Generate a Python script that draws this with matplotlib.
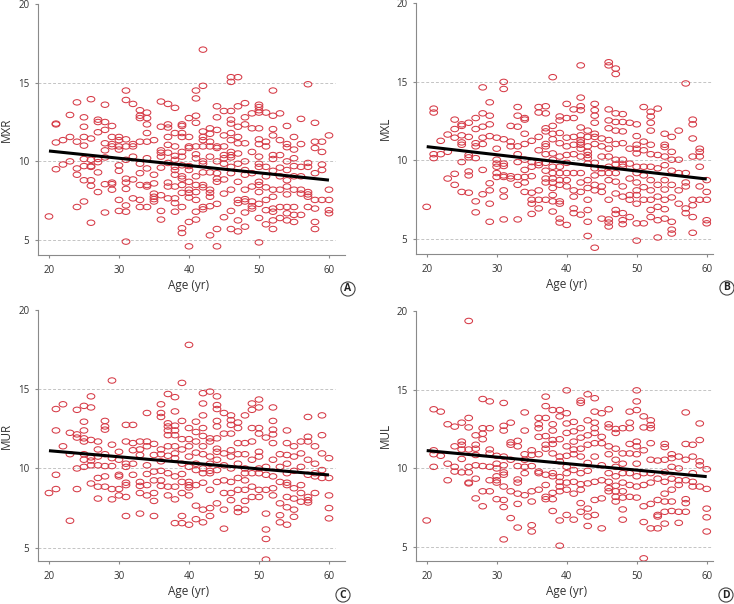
import numpy as np
import matplotlib
matplotlib.use("Agg")
import matplotlib.pyplot as plt
from matplotlib.markers import MarkerStyle
from matplotlib.transforms import Affine2D

plt.rcParams['font.family'] = ['Open Sans', 'DejaVu Sans']

# ages on the x axis; each panel lists the values seen at every age 20..60
ages = list(range(20, 61))

mxr = [
    [6.5],
    [12.4, 12.35, 11.2, 9.5],
    [11.35, 9.8],
    [12.95, 11.55, 10.0],
    [13.75, 11.25, 9.55, 9.15, 7.1],
    [12.8, 12.2, 11.55, 11.0, 10.15, 9.7, 8.8, 7.45],
    [13.95, 11.45, 10.1, 9.7, 9.65, 8.8, 8.45, 6.1],
    [12.65, 12.5, 11.85, 10.15, 9.95, 9.3, 8.05],
    [13.6, 12.5, 12.0, 11.15, 10.7, 10.25, 8.55, 6.75],
    [12.25, 11.55, 11.1, 10.95, 8.65, 8.55, 8.2],
    [11.55, 11.35, 10.95, 10.75, 9.75, 9.4, 7.55, 6.85],
    [14.5, 13.9, 11.4, 10.95, 10.1, 8.9, 8.65, 8.25, 7.2, 6.8, 4.9],
    [13.65, 11.1, 10.95, 10.3, 8.85, 7.65],
    [13.25, 12.9, 12.75, 11.25, 9.85, 9.25, 8.5, 7.55, 7.1],
    [13.1, 12.75, 12.35, 11.8, 11.25, 10.2, 9.55, 8.5, 8.4, 7.1],
    [11.35, 9.15, 8.6, 7.95, 7.75, 7.6, 7.45],
    [13.8, 12.2, 10.7, 10.55, 10.3, 9.6, 7.85, 6.85, 6.3],
    [13.65, 12.35, 12.15, 11.55, 11.05, 10.55, 9.9, 8.65, 8.4, 7.65],
    [13.4, 11.8, 10.95, 10.35, 10.1, 9.65, 9.45, 9.15, 8.4, 7.65, 7.35, 6.8],
    [12.35, 12.25, 11.8, 11.55, 10.6, 10.3, 9.75, 9.05, 8.9, 8.5, 8.0, 7.1, 5.75, 5.45],
    [12.75, 11.55, 10.95, 10.85, 9.7, 9.45, 8.7, 8.2, 8.0, 7.7, 6.15, 4.6],
    [14.5, 14.0, 12.9, 12.45, 10.95, 10.45, 10.2, 9.05, 8.5, 8.05, 7.55, 6.8, 6.3],
    [17.1, 14.8, 11.9, 11.55, 11.35, 10.95, 10.0, 9.85, 9.3, 8.5, 8.35, 7.1, 6.95],
    [12.1, 11.75, 11.25, 10.95, 10.3, 9.3, 8.2, 8.0, 7.75, 7.15, 5.3],
    [13.5, 12.8, 12.0, 10.95, 10.85, 10.0, 9.25, 8.9, 8.7, 7.3, 5.7, 4.6],
    [13.2, 11.65, 10.95, 10.4, 10.2, 9.85, 8.85, 7.95, 6.45],
    [15.35, 15.05, 13.2, 12.65, 12.4, 11.8, 11.35, 10.6, 10.4, 10.25, 9.65, 9.25, 8.2, 6.85, 5.7],
    [15.35, 13.5, 12.2, 11.55, 11.15, 10.5, 9.85, 8.7, 7.55, 7.35, 6.25, 5.55],
    [13.7, 12.8, 12.35, 11.15, 10.0, 9.45, 9.15, 8.2, 7.6, 7.45, 6.75, 5.85],
    [13.05, 12.1, 10.6, 9.25, 8.4, 7.45, 7.15, 7.0],
    [13.6, 13.45, 13.25, 13.1, 12.1, 11.4, 11.1, 10.3, 9.85, 9.65, 8.7, 8.5, 8.05, 7.3, 6.4, 4.85],
    [13.1, 11.25, 10.95, 9.65, 9.05, 8.35, 7.55, 6.9, 6.0],
    [14.5, 12.9, 12.05, 11.65, 10.4, 10.15, 9.4, 8.2, 7.75, 7.0, 6.8, 6.25, 5.7],
    [13.05, 11.35, 10.4, 9.6, 9.05, 8.2, 7.1, 6.4],
    [12.25, 11.1, 10.9, 10.0, 9.45, 8.8, 8.4, 7.9, 7.1, 6.7, 6.25],
    [11.55, 10.75, 10.2, 9.7, 9.05, 8.2, 7.1, 6.6, 6.15],
    [12.7, 11.1, 9.65, 9.05, 8.2, 7.95, 6.6],
    [14.9, 9.9, 9.65, 8.05, 7.9, 7.75, 7.1],
    [12.45, 11.25, 10.85, 9.25, 7.55, 7.0, 6.15, 5.7],
    [11.25, 10.6, 9.8, 9.45, 7.55],
    [11.65, 8.2, 7.55, 6.9, 6.7],
]

mxl = [
    [7.05],
    [13.3, 13.05, 10.4, 10.15],
    [11.25, 10.4],
    [11.65, 10.55, 8.85],
    [12.6, 12.0, 11.45, 9.15, 8.45],
    [12.3, 12.2, 11.6, 11.15, 11.0, 9.9, 8.0],
    [12.4, 11.5, 10.35, 10.2, 9.3, 9.05, 7.95],
    [12.7, 12.0, 11.1, 10.9, 10.15, 7.4, 6.7],
    [14.65, 13.0, 12.15, 11.45, 11.05, 9.4, 7.85],
    [13.7, 12.85, 12.3, 11.55, 8.55, 8.1, 7.25, 6.1],
    [11.45, 10.75, 10.05, 9.8, 9.6, 9.2, 8.95],
    [15.0, 14.55, 11.35, 9.8, 9.65, 9.05, 8.95, 8.1, 7.7, 6.25],
    [12.2, 11.2, 10.9, 9.0, 8.85],
    [13.4, 12.85, 12.15, 10.9, 10.4, 9.9, 8.95, 8.45, 6.25],
    [12.7, 12.6, 11.7, 11.05, 10.05, 9.4, 8.95, 8.6, 8.0],
    [11.25, 9.9, 9.6, 9.0, 7.95, 7.5, 7.25, 6.6],
    [13.4, 13.05, 11.5, 10.65, 9.85, 9.7, 8.1, 7.5, 6.95],
    [13.45, 13.0, 12.05, 11.85, 11.05, 10.9, 10.4, 9.85, 9.35, 8.85, 8.6, 7.5],
    [15.3, 12.2, 11.7, 11.35, 10.45, 10.05, 9.6, 9.2, 8.85, 8.6, 8.25, 7.8, 7.4, 6.75],
    [12.8, 12.55, 11.75, 11.1, 10.25, 9.6, 9.2, 8.75, 8.45, 7.4, 7.25, 6.3, 6.05],
    [13.6, 12.7, 11.45, 10.9, 10.35, 9.85, 9.2, 8.75, 8.35, 5.9],
    [13.25, 12.7, 11.5, 11.0, 10.4, 9.2, 8.1, 7.7, 6.95, 6.65],
    [16.05, 14.0, 13.45, 13.2, 12.1, 11.6, 11.3, 11.15, 11.0, 10.75, 10.25, 9.2, 8.6, 8.0, 6.55],
    [11.9, 11.5, 10.9, 10.55, 10.35, 10.15, 9.8, 8.75, 8.25, 7.5, 6.85, 6.1, 5.2],
    [13.6, 13.2, 12.85, 12.4, 11.7, 11.5, 11.05, 9.85, 9.5, 9.05, 8.45, 8.1, 4.45],
    [11.4, 10.9, 10.25, 9.5, 9.2, 8.35, 8.0, 6.3],
    [16.25, 16.05, 13.25, 12.55, 12.05, 11.3, 10.75, 10.25, 9.6, 9.2, 8.75, 7.5, 6.25, 6.05, 5.8],
    [15.85, 15.5, 13.0, 12.45, 11.9, 11.05, 10.05, 9.75, 9.2, 8.65, 7.9, 6.85, 6.6],
    [12.95, 12.45, 11.85, 11.1, 10.05, 9.75, 9.6, 8.35, 7.7, 6.65, 6.2, 5.95],
    [12.4, 10.75, 9.8, 8.85, 7.8, 7.5, 6.4],
    [12.3, 11.55, 11.0, 10.75, 10.45, 9.6, 9.2, 8.6, 8.1, 7.8, 7.25, 6.0, 4.9],
    [13.4, 11.2, 10.65, 9.6, 9.05, 8.3, 7.5, 6.0],
    [13.1, 12.8, 12.4, 11.9, 11.0, 10.4, 9.6, 8.75, 8.1, 7.5, 6.85, 6.4],
    [13.3, 10.35, 9.5, 8.45, 7.7, 7.05, 6.2, 5.1],
    [11.7, 11.0, 10.85, 10.25, 9.7, 8.75, 8.15, 7.5, 6.9, 6.3],
    [11.5, 10.55, 10.05, 9.35, 8.45, 7.65, 6.1, 5.6, 5.35],
    [11.9, 10.05, 9.2, 8.1, 7.25],
    [14.9, 9.2, 8.6, 8.35, 6.95, 6.65],
    [12.6, 12.3, 11.4, 10.25, 7.5, 7.15, 6.4, 5.4],
    [10.75, 10.55, 10.25, 9.6, 8.35, 7.5],
    [8.75, 8.0, 7.5, 6.2, 6.0],
]

mur = [
    [8.45],
    [13.75, 12.4, 9.6, 8.7],
    [14.05, 11.4],
    [12.25, 10.9, 6.7],
    [13.7, 12.15, 11.95, 10.0, 8.7],
    [13.95, 12.95, 12.4, 11.9, 11.7, 10.9, 10.55, 10.1],
    [14.55, 13.85, 11.8, 10.7, 10.5, 10.2, 9.05],
    [11.7, 11.2, 10.75, 10.2, 9.4, 8.85, 8.1],
    [13.0, 12.65, 12.45, 10.9, 10.15, 9.5, 8.85],
    [15.55, 11.5, 10.65, 10.15, 8.7, 8.05],
    [11.05, 10.55, 9.6, 9.5, 8.7, 8.3],
    [12.75, 11.7, 10.3, 10.1, 9.1, 8.95, 8.2, 7.0],
    [12.75, 11.6, 11.15, 10.3, 9.6],
    [11.7, 11.2, 10.85, 9.15, 8.9, 8.45, 7.15],
    [13.5, 11.7, 11.4, 10.2, 9.65, 8.95, 8.3],
    [11.55, 10.85, 9.8, 9.25, 8.45, 7.95, 7.0],
    [14.05, 13.5, 13.25, 11.2, 10.9, 10.45, 9.85, 9.25, 8.9],
    [14.7, 12.85, 12.65, 12.4, 12.1, 11.4, 10.8, 9.7, 8.85, 8.3],
    [14.5, 13.6, 12.7, 12.4, 12.1, 11.4, 10.95, 10.65, 9.5, 8.85, 8.05, 6.55],
    [15.4, 13.0, 11.85, 11.2, 10.3, 9.65, 9.15, 8.45, 7.0, 6.55],
    [17.8, 12.55, 11.85, 11.4, 10.75, 10.1, 9.15, 8.95, 8.8, 8.3, 6.45],
    [12.95, 12.3, 11.7, 11.0, 10.3, 9.9, 8.95, 7.65, 6.8],
    [14.75, 14.1, 13.35, 12.55, 12.05, 11.4, 10.9, 10.0, 9.7, 9.1, 7.4, 6.6],
    [14.85, 11.9, 11.7, 10.75, 10.3, 9.85, 9.7, 8.65, 7.5, 7.0],
    [14.55, 14.0, 13.75, 13.0, 12.65, 11.9, 11.25, 11.05, 10.55, 9.9, 9.15, 7.8],
    [13.5, 12.2, 10.95, 10.2, 9.25, 8.45, 7.4, 6.2],
    [13.35, 13.05, 12.75, 12.2, 11.15, 10.75, 10.0, 9.15, 8.45, 8.0],
    [12.9, 12.55, 11.6, 10.9, 10.3, 9.4, 8.65, 7.5, 7.25],
    [13.35, 11.6, 10.9, 10.0, 9.7, 9.25, 8.65, 7.95, 7.4],
    [14.1, 13.7, 12.55, 11.7, 10.55, 9.7, 8.85, 8.2],
    [14.35, 13.85, 12.55, 12.2, 11.05, 10.75, 10.0, 9.7, 8.65, 8.2],
    [11.95, 10.1, 9.6, 8.65, 7.15, 6.15, 5.55, 4.25],
    [13.85, 13.0, 12.45, 12.15, 11.6, 10.55, 9.5, 8.75, 8.3],
    [10.9, 10.1, 9.15, 7.8, 7.05, 6.6],
    [12.4, 11.6, 10.85, 10.3, 9.7, 9.1, 8.95, 8.2, 7.55, 6.45],
    [11.4, 10.75, 9.85, 8.75, 8.1, 7.4, 6.95],
    [11.7, 10.95, 10.1, 8.95, 8.45, 7.9],
    [13.25, 12.0, 11.7, 10.55, 9.6, 8.2, 8.0, 7.85],
    [11.4, 10.3, 9.7, 9.5, 8.45],
    [13.35, 12.1, 10.95, 9.9, 9.4],
    [10.65, 9.4, 8.3, 7.5, 6.85],
]

mul = [
    [6.7],
    [13.75, 11.15, 10.9, 10.1],
    [13.6, 10.8],
    [12.8, 10.3, 9.25],
    [12.65, 11.4, 10.1, 9.8],
    [12.9, 11.7, 11.5, 11.2, 10.6, 9.75],
    [19.35, 13.2, 12.6, 11.2, 10.1, 9.75, 9.1, 9.05],
    [12.1, 11.5, 11.25, 10.85, 10.2, 9.35, 8.1],
    [14.4, 12.55, 12.2, 11.85, 10.15, 8.55, 7.6],
    [14.25, 12.55, 11.2, 10.95, 10.1, 9.25, 8.55],
    [10.8, 10.3, 10.0, 9.5, 9.25, 9.1, 8.05],
    [14.15, 12.7, 12.4, 10.75, 10.2, 9.75, 9.6, 8.85, 8.0, 7.55, 5.5],
    [12.9, 11.65, 11.5, 10.55, 8.55, 6.85],
    [11.75, 11.4, 10.15, 9.3, 9.1, 8.4, 7.75, 6.25],
    [13.55, 12.4, 10.9, 10.55, 10.1, 9.7, 8.3],
    [11.15, 10.85, 10.15, 8.55, 7.9, 6.4, 6.0],
    [13.2, 12.8, 12.55, 12.0, 10.9, 9.8, 9.7, 8.65],
    [14.55, 13.95, 13.2, 12.05, 11.5, 11.25, 9.6, 8.95, 8.2, 8.05],
    [13.7, 12.8, 12.4, 11.8, 11.55, 10.95, 9.7, 9.5, 8.45, 8.05, 7.3],
    [13.7, 13.3, 11.85, 10.75, 10.45, 9.45, 9.15, 8.85, 8.55, 6.7, 5.1],
    [14.95, 13.5, 12.85, 12.25, 11.4, 10.8, 10.1, 9.7, 9.1, 8.65, 7.05],
    [12.95, 12.35, 11.7, 11.2, 10.9, 9.9, 9.15, 8.4, 6.75],
    [14.3, 14.15, 12.55, 11.95, 11.25, 10.75, 9.7, 9.0, 8.65, 7.8, 7.25],
    [14.7, 13.05, 12.1, 11.5, 10.35, 9.85, 9.05, 7.45, 6.95, 6.35],
    [14.45, 13.6, 12.9, 12.55, 12.25, 11.6, 10.75, 9.15, 8.0, 7.05],
    [13.5, 12.0, 11.6, 10.2, 9.25, 8.1, 6.2],
    [13.75, 12.8, 12.6, 11.4, 10.9, 9.7, 9.15, 8.75, 8.55],
    [12.5, 12.25, 11.25, 10.55, 10.1, 9.5, 8.9, 8.55, 8.2, 7.9],
    [12.55, 10.95, 10.3, 9.7, 9.1, 8.55, 8.15, 7.4, 6.75],
    [13.6, 12.9, 12.55, 11.55, 10.95, 9.7, 8.95, 8.2],
    [14.95, 14.25, 13.7, 11.7, 11.4, 10.9, 10.3, 9.5, 8.85, 8.15],
    [13.3, 12.6, 11.15, 9.7, 8.95, 7.6, 6.6, 4.3],
    [13.05, 12.75, 12.55, 11.6, 10.55, 9.7, 9.1, 7.75, 6.2],
    [10.5, 9.35, 8.0, 7.05, 6.95, 6.2],
    [11.55, 11.35, 10.55, 9.75, 9.15, 8.4, 7.9, 7.25, 6.5],
    [10.9, 10.65, 10.1, 9.35, 8.65, 7.9, 7.3],
    [10.75, 10.0, 9.25, 8.95, 7.25, 6.55],
    [13.55, 11.55, 10.55, 9.25, 8.05, 7.8, 7.25],
    [11.5, 10.75, 9.7, 9.15, 8.85],
    [12.85, 11.8, 10.45, 10.2, 8.85],
    [9.95, 8.7, 7.45, 6.9, 6.0],
]

# regression line read at age 20 and age 60
fit_ages = [20, 60]
mxr_fit = [10.66, 8.81]
mxl_fit = [10.88, 8.82]
mur_fit = [11.12, 9.59]
mul_fit = [11.13, 9.48]

names = ['MXR', 'MXL', 'MUR', 'MUL']
tags = ['A', 'B', 'C', 'D']

RED = '#d63a46'
GREY = '#8a8a8a'
oval = MarkerStyle('o', transform=Affine2D().scale(1.0, 0.7))

fig = plt.figure(figsize=(7.34, 6.04), dpi=100)
W, H = 734, 604

# pixel boxes: left, right, top, bottom, xlim, ylim bottom, tag centre
boxes = [
    (37.7, 345.0, 4.0, 255.0, (18.39, 62.29), 4.05, (348, 289)),
    (415.7, 713.3, 3.3, 254.0, (18.43, 60.94), 4.05, (727, 288)),
    (37.7, 345.0, 310.0, 561.0, (18.39, 62.29), 4.16, (343, 595)),
    (415.7, 713.3, 310.7, 561.0, (18.43, 60.94), 4.13, (726, 595)),
]

for values, fit, name, tag, box in zip([mxr, mxl, mur, mul],
                                       [mxr_fit, mxl_fit, mur_fit, mul_fit],
                                       names, tags, boxes):
    l, r, t, b, xl, y0, (tx, ty) = box
    ax = fig.add_axes([l / W, 1 - b / H, (r - l) / W, (b - t) / H])
    ax.set_xlim(*xl)
    ax.set_ylim(y0, 20)

    ax.hlines([5, 10, 15], xl[0], 60.9, colors='#c4c4c4', linestyles=(0, (3, 2)),
              linewidth=0.7, zorder=0)

    xs = np.repeat(ages, [len(v) for v in values])
    ys = np.concatenate(values)
    ax.scatter(xs, ys, s=31, marker=oval, facecolors='none', edgecolors=RED,
               linewidths=0.75, zorder=2)
    ax.plot(fit_ages, fit, color='black', lw=2.2, solid_capstyle='butt', zorder=3)

    for side in ['top', 'right']:
        ax.spines[side].set_visible(False)
    for side in ['left', 'bottom']:
        ax.spines[side].set_color(GREY)
        ax.spines[side].set_linewidth(0.8)

    ax.set_xticks([20, 30, 40, 50, 60])
    ax.set_yticks([5, 10, 15, 20])
    ax.tick_params(direction='out', length=2.5, width=0.8, color=GREY,
                   labelsize=7, labelcolor='#333333')
    ax.tick_params(axis='x', pad=5)
    ax.tick_params(axis='y', pad=3.5)

    ax.set_xlabel('Age (yr)', fontsize=8.5, color='#333333')
    ax.xaxis.set_label_coords((40 - xl[0]) / (xl[1] - xl[0]), -0.095)
    ax.set_ylabel(name, fontsize=8.5, color='#333333')
    ax.yaxis.set_label_coords(-0.081, 0.5)

    fig.text(tx / W, 1 - ty / H, tag, ha='center', va='center', fontsize=7.5,
             fontweight='bold', color='#222222',
             bbox=dict(boxstyle='circle,pad=0.15', fc='white', ec='#444444', lw=0.8))

fig.savefig('out.png', dpi=100)
